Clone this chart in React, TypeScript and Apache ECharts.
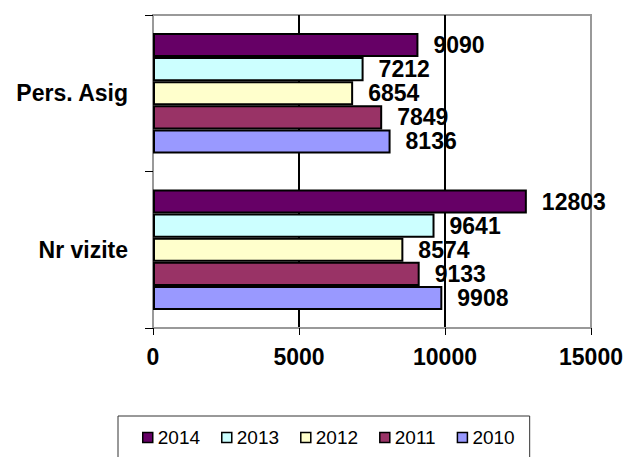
import React, { useEffect, useRef } from "react";
import * as echarts from "echarts";

const categories = ["Nr vizite", "Pers. Asig"];
const seriesNames = ["2014", "2013", "2012", "2011", "2010"];
const values2014 = [12803, 9090];
const values2013 = [9641, 7212];
const values2012 = [8574, 6854];
const values2011 = [9133, 7849];
const values2010 = [9908, 8136];
const xTicks = [0, 5000, 10000, 15000];

const seriesValues = [values2014, values2013, values2012, values2011, values2010];
const colors = ["#660066", "#CCFFFF", "#FFFFCC", "#993366", "#9999FF"];
const FONT = "'Liberation Sans', Arial, sans-serif";

export default function App() {
  const ref = useRef<HTMLDivElement>(null);
  useEffect(() => {
    if (!ref.current) return;
    const chart = echarts.init(ref.current, undefined, { renderer: "svg" });
    chart.setOption({
      animation: false,
      backgroundColor: "#ffffff",
      textStyle: { fontFamily: FONT },
      grid: {
        left: 153,
        right: 35,
        top: 15,
        bottom: 129,
        show: true,
        borderColor: "#999999",
        borderWidth: 2,
      },
      legend: {
        data: seriesNames,
        left: 118,
        top: 416,
        padding: [12, 15, 40, 24],
        itemWidth: 10,
        itemHeight: 10,
        itemGap: 21,
        borderColor: "#333333",
        borderWidth: 1,
        icon: "rect",
        itemStyle: { borderColor: "#000", borderWidth: 1.5 },
        textStyle: { fontFamily: FONT, fontSize: 19, color: "#000" },
      },
      xAxis: {
        type: "value",
        min: xTicks[0],
        max: xTicks[xTicks.length - 1],
        interval: xTicks[1] - xTicks[0],
        axisLine: { show: true, lineStyle: { color: "#999999", width: 2 } },
        axisTick: { show: true, length: 7, lineStyle: { color: "#000", width: 1 } },
        axisLabel: {
          margin: 17,
          fontFamily: FONT,
          fontSize: 23,
          fontWeight: "bold",
          color: "#000",
          formatter: (v: number) => String(v),
        },
        splitLine: {
          show: true,
          showMinLine: false,
          showMaxLine: false,
          lineStyle: { color: "#000", width: 2 },
        },
      },
      yAxis: {
        type: "category",
        data: categories,
        axisLine: { show: true, lineStyle: { color: "#999999", width: 2 } },
        axisTick: { show: true, length: 8, lineStyle: { color: "#000", width: 1 } },
        axisLabel: {
          margin: 25,
          fontFamily: FONT,
          fontSize: 23,
          fontWeight: "bold",
          color: "#000",
        },
        splitLine: { show: false },
      },
      series: seriesNames.map((name, i) => ({
        name,
        type: "bar",
        data: seriesValues[i],
        barGap: "0%",
        barCategoryGap: "23%",
        itemStyle: { color: colors[i], borderColor: "#000", borderWidth: 2 },
        label: {
          show: true,
          position: "right",
          distance: 15,
          fontFamily: FONT,
          fontSize: 23,
          fontWeight: "bold",
          color: "#000",
        },
      })),
    });
    return () => chart.dispose();
  }, []);
  return (
    <div
      ref={ref}
      style={{ position: "fixed", left: 0, top: 0, width: 626, height: 457 }}
    />
  );
}
